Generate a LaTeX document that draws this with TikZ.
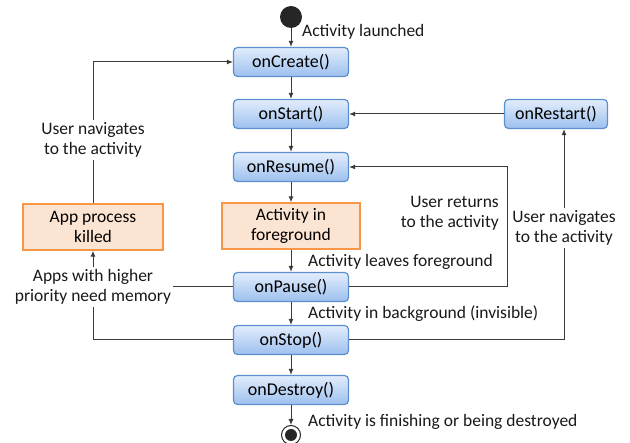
\documentclass[tikz,border=0pt]{standalone}
\usepackage{fontspec}
\setmainfont{Carlito}
\usetikzlibrary{arrows.meta}
\definecolor{stateborder}{HTML}{5B8FD0}
\definecolor{statetop}{HTML}{E2EDFC}
\definecolor{statebot}{HTML}{9DC0EE}
\definecolor{noteborder}{HTML}{F79646}
\definecolor{notefill}{HTML}{FCE4D2}
\definecolor{linecol}{HTML}{3A3A3A}
\begin{document}
\begin{tikzpicture}[x=1pt,y=-1pt,
  state/.style={draw=stateborder, line width=1.2pt, rounded corners=4pt,
    top color=statetop, bottom color=statebot, minimum width=115pt,
    minimum height=29pt, inner sep=0pt, font=\fontsize{18}{20}\selectfont},
  note/.style={draw=noteborder, line width=1.4pt, fill=notefill,
    minimum width=140pt, minimum height=46pt, inner sep=0pt, align=center,
    font=\fontsize{17.5}{20}\selectfont},
  lbl/.style={font=\fontsize{17.5}{20}\selectfont, align=center, inner sep=2pt, text=black!90},
  flow/.style={draw=linecol, line width=1pt, -{Latex[length=6pt,width=5pt]}},
  wire/.style={draw=linecol, line width=1pt}]
\useasboundingbox (0,0) rectangle (630,443);

% initial and final states
\node[circle, fill=black!85, minimum size=22pt, inner sep=0pt] (start) at (291,17) {};
\node[circle, draw=black!85, line width=1pt, minimum size=19pt, inner sep=0pt] (end) at (291,435) {};
\fill[black!85] (end) circle (6pt);

% lifecycle callbacks
\node[state] (create)  at (291,62)  {onCreate()};
\node[state] (start2)  at (291,114) {onStart()};
\node[state] (resume)  at (291,167) {onResume()};
\node[note, minimum width=138pt] (fg) at (291,226) {Activity in\\foreground};
\node[state] (pause)   at (291,287) {onPause()};
\node[state] (stop)    at (291,340) {onStop()};
\node[state] (destroy) at (291,390) {onDestroy()};
\node[state, minimum width=103pt] (restart) at (556,114) {onRestart()};
\node[note] (killed) at (93,227) {App process\\killed};

% labels
\node[lbl, anchor=west] (launched) at (300,32) {Activity launched};
\node[lbl] (navL) at (93,140) {User navigates\\to the activity};
\node[lbl] (memory) at (93,287) {Apps with higher\\priority need memory};
\node[lbl, anchor=east, align=right] (returns) at (501,213) {User returns\\to the activity};
\node[lbl, anchor=west] (leaves) at (306,262) {Activity leaves foreground};
\node[lbl, anchor=west] (background) at (306,314) {Activity in background (invisible)};
\node[lbl] (navR) at (564,228) {User navigates\\to the activity};
\node[lbl, anchor=west] (finishing) at (306,422) {Activity is finishing or being destroyed};

% main sequence
\draw[flow] (start) -- (create);
\draw[flow] (create) -- (start2);
\draw[flow] (start2) -- (resume);
\draw[flow] (resume) -- (fg);
\draw[flow] (fg) -- (pause);
\draw[flow] (pause) -- (stop);
\draw[flow] (stop) -- (destroy);
\draw[flow] (destroy) -- (end);

% restart path
\draw[flow] (restart) -- (start2);
\draw[wire] (stop.east) -| (navR.south);
\draw[flow] (navR.north) -- (navR.north |- restart.south);

% return to foreground
\coordinate (rtn) at (507,167);
\draw[flow] (pause.east) -| (rtn) -- (resume.east);

% process killed
\draw[wire] (pause.west) -- (memory.east);
\draw[wire] (stop.west) -| (memory.south);
\draw[flow] (memory.north) -- (killed.south);
\draw[wire] (killed.north) -- (navL.south);
\draw[flow] (navL.north) |- (create.west);
\end{tikzpicture}
\end{document}
